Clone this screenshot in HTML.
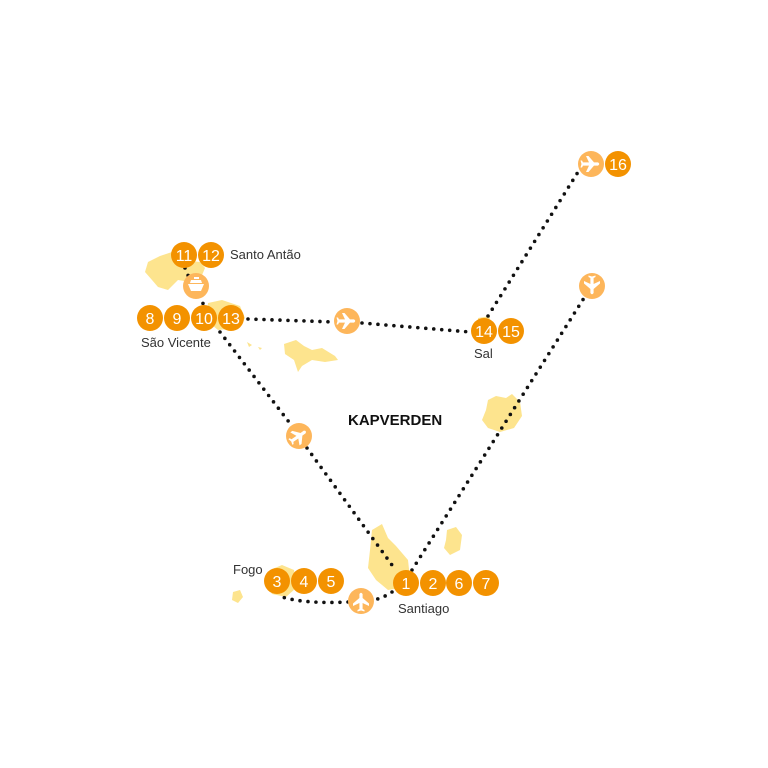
<!DOCTYPE html>
<html><head><meta charset="utf-8"><style>
html,body{margin:0;padding:0;background:#fff;}
svg{display:block;}
text{font-family:"Liberation Sans",sans-serif;}
.n{fill:#fff;font-size:16px;text-anchor:middle;}
.l{fill:#333;font-size:13px;}
.isl{fill:#fde48e;}
.dot{stroke:#111;stroke-width:3.6;stroke-linecap:round;stroke-dasharray:0 8;fill:none;}
</style></head><body>
<svg width="768" height="768" viewBox="0 0 768 768" xmlns="http://www.w3.org/2000/svg">
<defs>
<g id="pl"><path d="M-8,-1.6 L-2,-1.6 L-5,-8 L-2.5,-8 L3,-1.6 L7,-1.6 Q9.5,0 7,1.6 L3,1.6 L-2.5,8 L-5,8 L-2,1.6 L-8,1.6 L-9,3.5 L-10.5,3.5 L-9.5,0 L-10.5,-3.5 L-9,-3.5 Z" fill="#fff"/></g>
</defs>
<path class="isl" d="M148,262 L160,256 L172,252 L180,260 L200,262 L205,268 L200,280 L190,282 L178,280 L168,290 L158,287 L152,280 L145,272 Z"/>
<path class="isl" d="M208,303 L222,300 L240,306 L245,318 L238,328 L218,330 L206,320 Z"/>
<path class="isl" d="M247,342 L252,345 L249,347 Z M258,347 L262,348 L260,350 Z"/>
<path class="isl" d="M284,344 L296,340 L304,346 L312,350 L322,348 L335,356 L338,360 L325,362 L312,360 L302,366 L298,372 L294,360 L285,354 Z"/>
<path class="isl" d="M478,318 L490,316 L488,330 L484,338 L478,330 Z"/>
<path class="isl" d="M488,400 L496,396 L506,398 L512,394 L520,402 L522,416 L514,428 L500,432 L488,428 L482,420 L486,410 Z"/>
<path class="isl" d="M372,530 L382,524 L388,538 L396,546 L408,560 L410,578 L400,588 L388,590 L376,580 L368,568 L370,550 Z"/>
<path class="isl" d="M447,530 L456,527 L462,535 L460,550 L450,555 L444,548 L446,540 Z"/>
<path class="isl" d="M270,570 L282,565 L294,570 L296,588 L286,597 L272,594 L266,584 Z"/>
<path class="isl" d="M233,592 L240,590 L243,597 L238,603 L232,600 Z"/>
<path class="dot" d="M185,268 L190,280"/>
<path class="dot" d="M200,296 L204,306"/>
<path class="dot" d="M248,319 L335,322"/>
<path class="dot" d="M362,323 L470,332"/>
<path class="dot" d="M488,316 L578,172"/>
<path class="dot" d="M412,570 L584,298"/>
<path class="dot" d="M220,332 L292,426"/>
<path class="dot" d="M307,448 L392,565"/>
<path class="dot" d="M392,592 Q385,597 374,600"/>
<path class="dot" d="M348,602 Q305,604 282,597"/>
<circle cx="196" cy="286" r="13" fill="#fdb65b"/>
<path d="M188,284 L204,284 L201,291 L191,291 Z M191,280 L201,280 L202,283 L190,283 Z M194,277 L199,277 L199,279 L194,279 Z" fill="#fff"/>
<circle cx="347" cy="321" r="13" fill="#fdb65b"/><use href="#pl" transform="translate(347,321)"/>
<circle cx="591" cy="164" r="13" fill="#fdb65b"/><use href="#pl" transform="translate(591,164)"/>
<circle cx="592" cy="286" r="13" fill="#fdb65b"/><use href="#pl" transform="translate(592,286) rotate(90)"/>
<circle cx="299" cy="436" r="13" fill="#fdb65b"/><use href="#pl" transform="translate(299,436) rotate(-35)"/>
<circle cx="361" cy="601" r="13" fill="#fdb65b"/><use href="#pl" transform="translate(361,601) rotate(-90)"/>
<g fill="#f39200">
<circle cx="184" cy="255" r="13"/><circle cx="211" cy="255" r="13"/>
<circle cx="150" cy="318" r="13"/><circle cx="177" cy="318" r="13"/><circle cx="204" cy="318" r="13"/><circle cx="231" cy="318" r="13"/>
<circle cx="484" cy="331" r="13"/><circle cx="511" cy="331" r="13"/>
<circle cx="618" cy="164" r="13"/>
<circle cx="277" cy="581" r="13"/><circle cx="304" cy="581" r="13"/><circle cx="331" cy="581" r="13"/>
<circle cx="406" cy="583" r="13"/><circle cx="433" cy="583" r="13"/><circle cx="459" cy="583" r="13"/><circle cx="486" cy="583" r="13"/>
</g>
<g class="n">
<text x="184" y="261">11</text><text x="211" y="261">12</text>
<text x="150" y="324">8</text><text x="177" y="324">9</text><text x="204" y="324">10</text><text x="231" y="324">13</text>
<text x="484" y="337">14</text><text x="511" y="337">15</text>
<text x="618" y="170">16</text>
<text x="277" y="587">3</text><text x="304" y="587">4</text><text x="331" y="587">5</text>
<text x="406" y="589">1</text><text x="433" y="589">2</text><text x="459" y="589">6</text><text x="486" y="589">7</text>
</g>
<text class="l" x="230" y="259">Santo Antão</text>
<text class="l" x="141" y="347">São Vicente</text>
<text class="l" x="474" y="358">Sal</text>
<text class="l" x="233" y="574">Fogo</text>
<text class="l" x="398" y="613">Santiago</text>
<text x="348" y="425" style="font-size:15px;font-weight:bold;fill:#111;">KAPVERDEN</text>
</svg>
</body></html>
